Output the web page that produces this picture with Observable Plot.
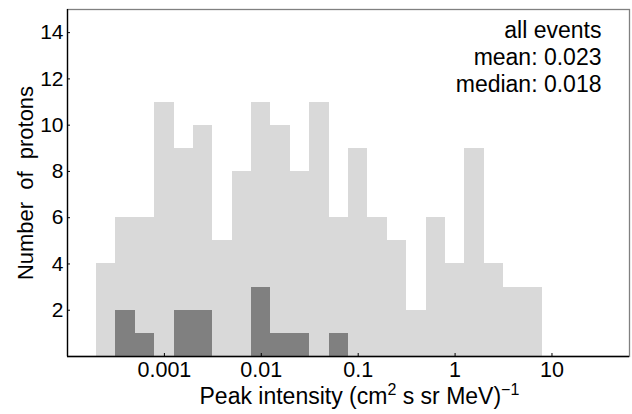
<!DOCTYPE html>
<html><head><meta charset="utf-8">
<script src="https://cdn.jsdelivr.net/npm/d3@7"></script>
<script src="https://cdn.jsdelivr.net/npm/@observablehq/plot@0.6"></script>
<style>body{margin:0;background:#fff}</style>
</head><body><div id="chart"></div>
<script>
// bin edges in log10 of peak intensity
const binEdgesLog = [-3.7,-3.5,-3.3,-3.1,-2.9,-2.7,-2.5,-2.3,-2.1,-1.9,-1.7,-1.5,-1.3,-1.1,-0.9,-0.7,-0.5,-0.3,-0.1,0.1,0.3,0.5,0.7,0.9];
const allCounts    = [4,6,6,11,9,10,5,8,11,10,8,11,6,9,6,5,2,6,4,9,4,3,3];
const subsetCounts = [0,2,1,0,2,2,0,0,3,1,1,0,1,0,0,0,0,0,0,0,0,0,0];
const xTicks = [0.001, 0.01, 0.1, 1, 10];
const xTickLabels = ["0.001", "0.01", "0.1", "1", "10"];
const yTicks = [2, 4, 6, 8, 10, 12, 14];
const annotation = ["all events", "mean: 0.023", "median: 0.018"];
const xLabel = "Peak intensity (cm² s sr MeV)⁻¹";
const yLabel = "Number of protons";

const bins = allCounts.map((c, i) => ({
  x1: 10 ** binEdgesLog[i], x2: 10 ** binEdgesLog[i + 1], all: c, sub: subsetCounts[i]
}));

const plot = Plot.plot({
  width: 632, height: 414,
  marginLeft: 67, marginRight: 3, marginTop: 9, marginBottom: 58,
  style: {fontFamily: "'Liberation Sans', Arial, sans-serif", fontSize: "21px", background: "#fff", color: "#000"},
  x: {type: "log", domain: [1e-4, 10 ** 1.8]},
  y: {domain: [0, 15]},
  marks: [
    Plot.rect(bins, {x1: "x1", x2: "x2", y1: 0, y2: "all", fill: "#d9d9d9", shapeRendering: "crispEdges"}),
    Plot.rect(bins.filter(d => d.sub > 0), {x1: "x1", x2: "x2", y1: 0, y2: "sub", fill: "#808080", shapeRendering: "crispEdges"}),
    Plot.frame({stroke: "#808080", strokeWidth: 1.3}),
    Plot.ruleX([1e-4], {stroke: "#000", strokeWidth: 1.3}),
    Plot.ruleY([0], {stroke: "#000", strokeWidth: 1.3}),
    Plot.axisX({ticks: xTicks, tickFormat: d => xTickLabels[xTicks.indexOf(d)], tickSize: -3, tickPadding: 8, label: null, fontSize: 21.5}),
    Plot.axisY({ticks: yTicks, tickSize: -3, tickPadding: 7, label: null, fontSize: 21}),
    Plot.text([annotation.join("\n")], {frameAnchor: "top-right", dx: -28, dy: 10, textAnchor: "end", lineHeight: 1.16, fontSize: 23}),
    Plot.text([yLabel], {frameAnchor: "left", textAnchor: "middle", lineAnchor: "middle", rotate: -90, dx: -42, fontSize: 22}),
    Plot.text([xLabel], {frameAnchor: "bottom-left", textAnchor: "start", lineAnchor: "bottom", dx: 132, dy: 47, fontSize: 23})
  ]
});
document.getElementById("chart").appendChild(plot);

// typographic touches: wide word spacing on y label, true superscripts on x label
d3.select(plot).selectAll("text").each(function () {
  const t = d3.select(this);
  const s = this.textContent;
  if (s === yLabel) t.style("word-spacing", "6px");
  if (s === xLabel) {
    t.text(null);
    t.append("tspan").text("Peak intensity (cm");
    t.append("tspan").attr("dy", -9).attr("font-size", 16).text("2");
    t.append("tspan").attr("dy", 9).text(" s sr MeV)");
    t.append("tspan").attr("dy", -9).attr("font-size", 16).text("\u22121");
  }
});
</script>
</body></html>
